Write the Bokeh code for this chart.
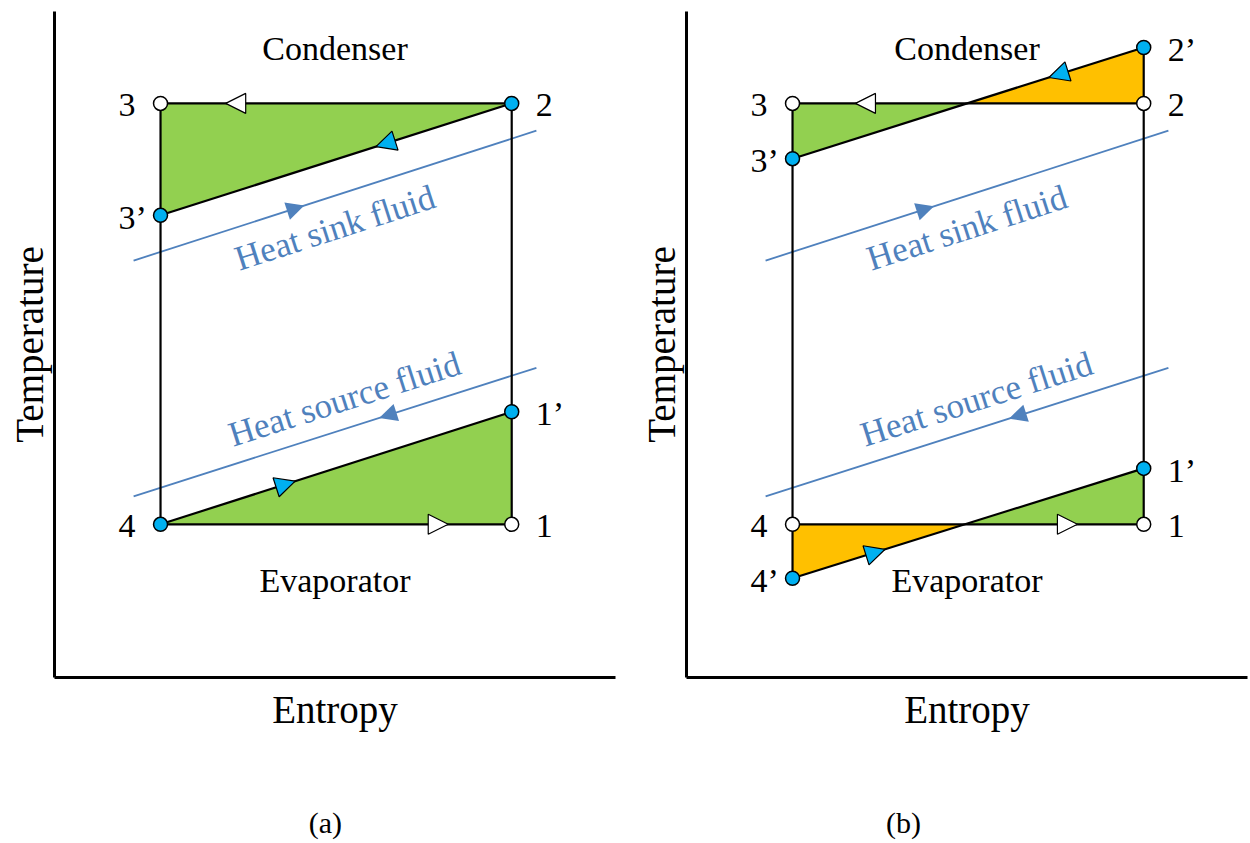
import math
from bokeh.plotting import figure
from bokeh.layouts import row, column
from bokeh.models import Range1d, FixedTicker, ColumnDataSource, Arrow, NormalHead
from bokeh.core.properties import value
from bokeh.embed import file_html
from bokeh.resources import INLINE

# ---------------- data (entropy s, temperature T; arbitrary units 0-100) ----------------
S_LOW, S_HIGH = 18.9, 81.5          # entropy of states 3/4 and 2/1

# panel (a)
A_T_COND = 86.2     # states 3, 2
A_T_3P = 69.4       # state 3'
A_T_1P = 39.9       # state 1'
A_T_EVAP = 23.0     # states 4, 1

# panel (b)
B_T_2P = 94.6       # state 2'
B_T_COND = 86.2     # states 3, 2
B_T_3P = 77.9       # state 3'
B_T_1P = 31.4       # state 1'
B_T_EVAP = 23.0     # states 4, 1
B_T_4P = 14.9       # state 4'

# secondary fluids (same in both panels)
SINK_S = [14.1, 85.9]
SINK_T = [62.6, 82.1]
SOURCE_S = [14.1, 85.9]
SOURCE_T = [27.2, 46.5]

# entropy at which direction arrows sit
A_ARROW_S = {"top": 32.3, "cond": 59.0, "evap": 41.2, "bottom": 68.4, "sink": 43.0, "source": 59.4}
B_ARROW_S = {"top": 31.9, "cond": 66.3, "evap": 33.7, "bottom": 67.9, "sink": 42.6, "source": 59.0}

LABEL_SINK = "Heat sink fluid"
LABEL_SOURCE = "Heat source fluid"
SINK_LABEL_POS = (50.0, 67.5)
SOURCE_LABEL_POS = (51.7, 41.8)
COND_LABEL_POS = (50.0, 94.4)
EVAP_LABEL_POS = (50.0, 14.6)
CAPTIONS = ["(a)", "(b)"]
CAPTION_S = [48.3, 38.7]
CAPTION_Y = 0.35

# ---------------- styles ----------------
FONT = "Liberation Serif"
GREEN = "#92D050"
ORANGE = "#FFC000"
BLUE_PT = "#00B0F0"
FLUID = "#4F81BD"
H_TOP, H_CAP = 783, 60
FRAME_W, FRAME_H = 561, 666
B_TOP, B_BOTTOM, B_LEFT = 11, 106, 54
KX, KY = FRAME_W / 100.0, FRAME_H / 100.0


def t_on(p0, p1, s):
    return p0[1] + (s - p0[0]) * (p1[1] - p0[1]) / (p1[0] - p0[0])


def s_at(p0, p1, t):
    return p0[0] + (t - p0[1]) * (p1[0] - p0[0]) / (p1[1] - p0[1])


def head_coords(p_from, p_to, s_c, size):
    t_c = t_on(p_from, p_to, s_c)
    dx = (p_to[0] - p_from[0]) * KX
    dy = (p_to[1] - p_from[1]) * KY
    n = math.hypot(dx, dy)
    ux, uy = dx / n, dy / n
    half = size / 2.0
    return (s_c - half * ux / KX, t_c - half * uy / KY,
            s_c + half * ux / KX, t_c + half * uy / KY)


def add_heads(p, specs, size, fill, line):
    xs, ys, xe, ye = [], [], [], []
    for p_from, p_to, s_c in specs:
        a, b, c, d = head_coords(p_from, p_to, s_c, size)
        xs.append(a); ys.append(b); xe.append(c); ye.append(d)
    src = ColumnDataSource(dict(xs=xs, ys=ys, xe=xe, ye=ye))
    head = NormalHead(size=size, fill_color=fill,
                      line_color=line if line else None, line_width=1.2)
    p.add_layout(Arrow(end=head, x_start="xs", y_start="ys", x_end="xe", y_end="ye",
                       source=src, line_alpha=0, line_width=0))


def style_axis(ax, lab, size):
    ax.ticker = FixedTicker(ticks=[])
    ax.minor_tick_out = 0
    ax.minor_tick_in = 0
    ax.major_tick_out = 0
    ax.major_tick_in = 0
    ax.major_label_standoff = 0
    ax.axis_label = lab
    ax.axis_label_text_font = FONT
    ax.axis_label_text_font_size = size
    ax.axis_label_text_font_style = "normal"
    ax.axis_label_text_color = "black"
    ax.axis_line_width = 3
    ax.axis_line_color = "black"


def make_caption(width, border_right, text, s):
    c = figure(width=width, height=H_CAP, x_range=Range1d(0, 100), y_range=Range1d(0, 1),
               output_backend="svg", toolbar_location=None,
               x_axis_location=None, y_axis_location=None,
               min_border_left=B_LEFT, min_border_right=border_right,
               min_border_top=0, min_border_bottom=0)
    c.outline_line_color = None
    c.xgrid.visible = False
    c.ygrid.visible = False
    c.text([s], [CAPTION_Y], text=[text], text_align="center", text_baseline="middle",
           text_font=value(FONT), text_font_size=value("30px"), text_color="black")
    return c


def make_panel(width, border_right, patches, lines, points, heads, arrows_s):
    p = figure(width=width, height=H_TOP, x_range=Range1d(0, 100), y_range=Range1d(0, 100),
               output_backend="svg", toolbar_location=None,
               min_border_left=B_LEFT, min_border_right=border_right,
               min_border_top=B_TOP, min_border_bottom=B_BOTTOM)
    p.outline_line_color = None
    p.xgrid.visible = False
    p.ygrid.visible = False
    style_axis(p.xaxis[0], "Entropy", "39px")
    style_axis(p.yaxis[0], "Temperature", "39px")
    p.xaxis[0].axis_label_standoff = 10
    p.yaxis[0].axis_label_standoff = 4

    # filled areas
    p.patches([[q[0] for q in poly] for poly, c in patches],
              [[q[1] for q in poly] for poly, c in patches],
              fill_color=[c for poly, c in patches], line_color=None)
    # secondary fluid lines
    p.multi_line([SINK_S, SOURCE_S], [SINK_T, SOURCE_T], line_color=FLUID, line_width=1.8)
    # cycle lines
    p.multi_line([[a[0], b[0]] for a, b in lines], [[a[1], b[1]] for a, b in lines],
                 line_color="black", line_width=2.2)

    # direction heads on cycle
    white_specs = [h for h in heads if h[3] == "white"]
    blue_specs = [h for h in heads if h[3] == "blue"]
    add_heads(p, [(a, b, arrows_s[k]) for a, b, k, c in white_specs], 20, "white", "black")
    add_heads(p, [(a, b, arrows_s[k]) for a, b, k, c in blue_specs], 20, BLUE_PT, "black")
    # direction heads on fluids
    sink0, sink1 = (SINK_S[0], SINK_T[0]), (SINK_S[1], SINK_T[1])
    src0, src1 = (SOURCE_S[0], SOURCE_T[0]), (SOURCE_S[1], SOURCE_T[1])
    add_heads(p, [(sink0, sink1, arrows_s["sink"]), (src1, src0, arrows_s["source"])], 18, FLUID, None)

    # state points
    p.scatter([q[1] for q in points], [q[2] for q in points], marker="circle", size=14,
              fill_color=[BLUE_PT if q[4] else "white" for q in points],
              line_color="black", line_width=1.5)
    left = [q for q in points if q[3] == "L"]
    right = [q for q in points if q[3] == "R"]
    for grp, off in ((left, -42), (right, 24)):
        p.text([q[1] for q in grp], [q[2] for q in grp], text=[q[0] for q in grp],
               x_offset=off, y_offset=2, text_align="left", text_baseline="middle",
               text_font=value(FONT), text_font_size=value("34px"), text_color="black")

    # heat exchanger names
    p.text([COND_LABEL_POS[0], EVAP_LABEL_POS[0]], [COND_LABEL_POS[1], EVAP_LABEL_POS[1]],
           text=["Condenser", "Evaporator"], text_align="center", text_baseline="alphabetic",
           text_font=value(FONT), text_font_size=value("34px"), text_color="black")

    # fluid names, rotated along the fluid lines
    ang_sink = math.atan2((SINK_T[1] - SINK_T[0]) * KY, (SINK_S[1] - SINK_S[0]) * KX)
    ang_src = math.atan2((SOURCE_T[1] - SOURCE_T[0]) * KY, (SOURCE_S[1] - SOURCE_S[0]) * KX)
    p.text([SINK_LABEL_POS[0], SOURCE_LABEL_POS[0]], [SINK_LABEL_POS[1], SOURCE_LABEL_POS[1]],
           text=[LABEL_SINK, LABEL_SOURCE], angle=[ang_sink, ang_src],
           text_align="center", text_baseline="middle",
           text_font=value(FONT), text_font_size=value("35px"), text_color=FLUID)
    return p


# ---------------- panel (a) ----------------
a3, a2 = (S_LOW, A_T_COND), (S_HIGH, A_T_COND)
a3p, a1p = (S_LOW, A_T_3P), (S_HIGH, A_T_1P)
a4, a1 = (S_LOW, A_T_EVAP), (S_HIGH, A_T_EVAP)
pa = make_panel(
    632, 17,
    patches=[([a3, a2, a3p], GREEN), ([a4, a1, a1p], GREEN)],
    lines=[(a3, a2), (a3, a4), (a2, a1), (a4, a1), (a2, a3p), (a4, a1p)],
    points=[("3", *a3, "L", False), ("2", *a2, "R", True), ("3\u2019", *a3p, "L", True),
            ("4", *a4, "L", True), ("1", *a1, "R", False), ("1\u2019", *a1p, "R", True)],
    heads=[(a2, a3, "top", "white"), (a2, a3p, "cond", "blue"),
           (a4, a1p, "evap", "blue"), (a4, a1, "bottom", "white")],
    arrows_s=A_ARROW_S)

# ---------------- panel (b) ----------------
b3, b2 = (S_LOW, B_T_COND), (S_HIGH, B_T_COND)
b2p, b3p = (S_HIGH, B_T_2P), (S_LOW, B_T_3P)
b4, b1 = (S_LOW, B_T_EVAP), (S_HIGH, B_T_EVAP)
b4p, b1p = (S_LOW, B_T_4P), (S_HIGH, B_T_1P)
bx_top = (s_at(b3p, b2p, B_T_COND), B_T_COND)
bx_bot = (s_at(b4p, b1p, B_T_EVAP), B_T_EVAP)
pb = make_panel(
    618, 3,
    patches=[([b3, bx_top, b3p], GREEN), ([bx_top, b2p, b2], ORANGE),
             ([b4, bx_bot, b4p], ORANGE), ([bx_bot, b1, b1p], GREEN)],
    lines=[(b3, b2), (b3p, b2p), (b3, b4p), (b2p, b1), (b4, b1), (b4p, b1p)],
    points=[("3", *b3, "L", False), ("2", *b2, "R", False), ("2\u2019", *b2p, "R", True),
            ("3\u2019", *b3p, "L", True), ("4", *b4, "L", False), ("4\u2019", *b4p, "L", True),
            ("1", *b1, "R", False), ("1\u2019", *b1p, "R", True)],
    heads=[(b2, b3, "top", "white"), (b2p, b3p, "cond", "blue"),
           (b4p, b1p, "evap", "blue"), (b4, b1, "bottom", "white")],
    arrows_s=B_ARROW_S)

ca = make_caption(632, 17, CAPTIONS[0], CAPTION_S[0])
cb = make_caption(618, 3, CAPTIONS[1], CAPTION_S[1])

layout = column(row(pa, pb, spacing=0), row(ca, cb, spacing=0), spacing=0)
open("out.html", "w").write(file_html(layout, INLINE))
